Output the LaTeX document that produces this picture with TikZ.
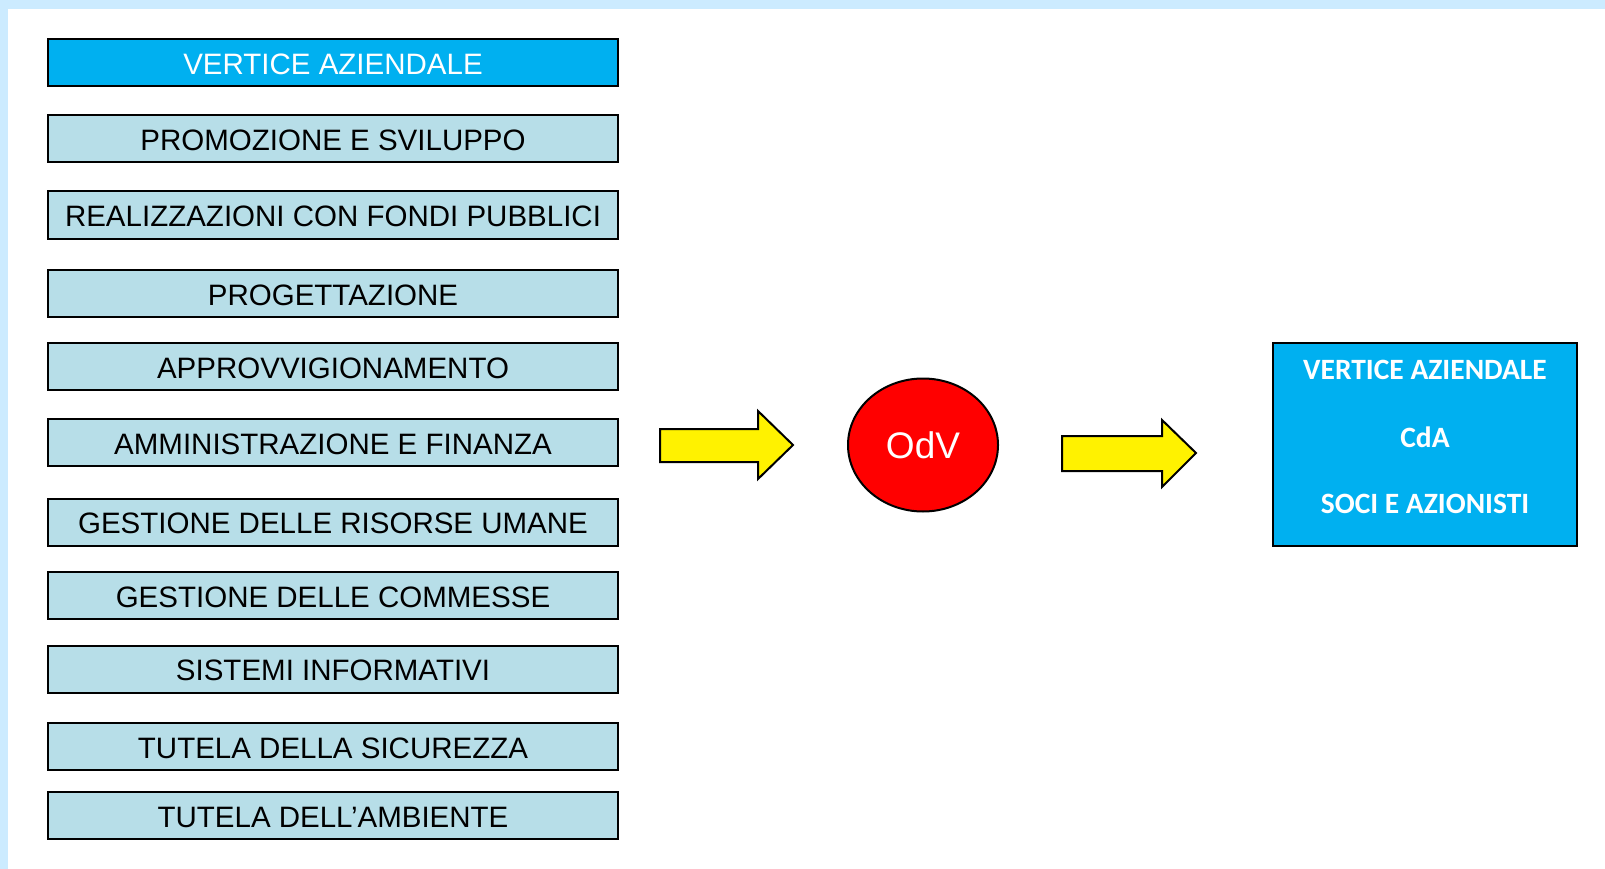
\documentclass[tikz,border=0pt]{standalone}
\usepackage{fontspec}
\setmainfont{Liberation Sans}
\newfontfamily\calib{Carlito}
\usetikzlibrary{shapes.geometric}
\definecolor{frameblue}{HTML}{CCEBFF}
\definecolor{topblue}{HTML}{00B0F0}
\definecolor{lightbox}{HTML}{B7DEE8}
\tikzset{
  unitbox/.style={draw=black, line width=2pt, fill=lightbox, minimum width=570pt, minimum height=47pt, inner sep=0pt,
    text height=23.7pt, text depth=0pt,
    font=\fontsize{29.5}{34}\selectfont, text=black},
  headbox/.style={unitbox, fill=topblue, text=white},
  bigarrow/.style={draw=black, line width=2pt, fill=yellow, line join=miter},
  righttext/.style={font=\calib\bfseries\fontsize{29.5}{34}\selectfont, text=white, inner sep=0pt}
}
\begin{document}
\begin{tikzpicture}[x=1pt,y=-1pt]
\useasboundingbox (0,0) rectangle (1605,869);
\fill[white] (0,0) rectangle (1605,869);
\fill[frameblue] (0,0) rectangle (1605,9);
\fill[frameblue] (0,0) rectangle (8,869);

\node[headbox] (b1) at (333,63) {VERTICE AZIENDALE};
\node[unitbox] (b2) at (333,138.5) {PROMOZIONE E SVILUPPO};
\node[unitbox] (b3) at (333,215) {REALIZZAZIONI CON FONDI PUBBLICI};
\node[unitbox] (b4) at (333,293.5) {PROGETTAZIONE};
\node[unitbox] (b5) at (333,366.5) {APPROVVIGIONAMENTO};
\node[unitbox] (b6) at (333,442.5) {AMMINISTRAZIONE E FINANZA};
\node[unitbox] (b7) at (333,522) {GESTIONE DELLE RISORSE UMANE};
\node[unitbox] (b8) at (333,595.5) {GESTIONE DELLE COMMESSE};
\node[unitbox] (b9) at (333,669) {SISTEMI INFORMATIVI};
\node[unitbox] (b10) at (333,746.5) {TUTELA DELLA SICUREZZA};
\node[unitbox] (b11) at (333,815.5) {TUTELA DELL’AMBIENTE};

\draw[bigarrow] (660,429) -- (758,429) -- (758,411) -- (793,445) -- (758,479) -- (758,462) -- (660,462) -- cycle;

\node[ellipse, draw=black, line width=2pt, fill=red, minimum width=150pt, minimum height=133pt, inner sep=0pt,
  text=white, font=\fontsize{37}{42}\selectfont] (odv) at (923,445) {OdV};

\draw[bigarrow] (1062,436) -- (1162,436) -- (1162,420) -- (1196,453) -- (1162,487) -- (1162,471) -- (1062,471) -- cycle;

\node[draw=black, line width=2pt, fill=topblue, minimum width=304pt, minimum height=203pt, inner sep=0pt] (vbox) at (1425,444.5) {};
\node[righttext] (t1) at (1425,370) {VERTICE AZIENDALE};
\node[righttext] (t2) at (1425,437) {CdA};
\node[righttext] (t3) at (1425,504) {SOCI E AZIONISTI};
\end{tikzpicture}
\end{document}
